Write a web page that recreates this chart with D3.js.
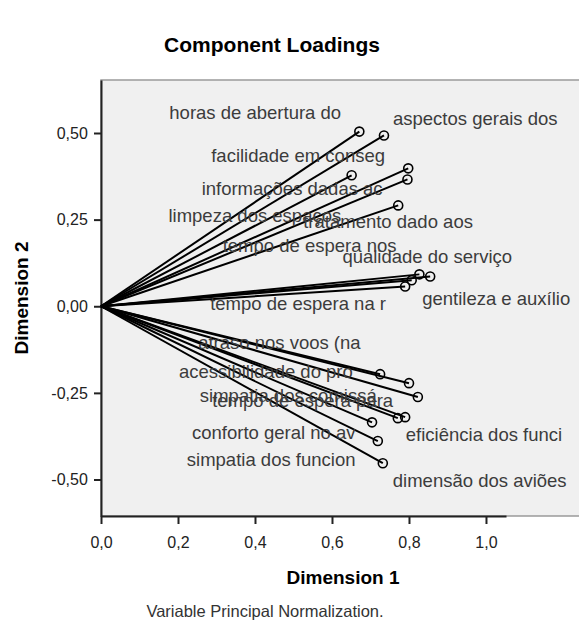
<!DOCTYPE html>
<html>
  <head>
    <meta charset="utf-8">
    <script src="https://cdn.jsdelivr.net/npm/d3@7"></script>
    <style type="text/css">

html, body {
  margin: 0;
  padding: 0;
  background: #fff;
}

svg {
  font-family: "Liberation Sans", Arial, sans-serif;
}

.axis path, .axis line {
  stroke: #222;
  stroke-width: 2px;
}

.axis text {
  font-size: 16px;
  fill: #222;
}

.vector {
  stroke: #000;
  stroke-width: 2px;
}

.tip {
  fill: none;
  stroke: #000;
  stroke-width: 1.6px;
}

.label {
  font-size: 18.5px;
  fill: #3c3c3c;
}

    </style>
  </head>
  <body>
    <svg id="chart" width="579" height="628"></svg>
    <script type="text/javascript">

// variable names (truncated to 20 chars like the output)
var variables = [
  "horas de abertura do", "aspectos gerais dos", "facilidade em conseg",
  "informações dadas ac", "limpeza dos espaços", "tratamento dado aos",
  "qualidade do serviço", "gentileza e auxílio", "tempo de espera nos",
  "tempo de espera na r", "atraso nos voos (na", "acessibilidade do pro",
  "simpatia dos comissá", "tempo de espera para", "eficiência dos funci",
  "conforto geral no av", "simpatia dos funcion", "dimensão dos aviões"
];

// loadings
var dim1 = [0.671, 0.735, 0.798, 0.651, 0.796, 0.772,
            0.827, 0.855, 0.807, 0.790,
            0.725, 0.800, 0.823, 0.790, 0.771, 0.704, 0.719, 0.732];
var dim2 = [0.504, 0.493, 0.398, 0.378, 0.366, 0.291,
            0.092, 0.086, 0.075, 0.057,
            -0.196, -0.222, -0.262, -0.320, -0.323, -0.335, -0.389, -0.453];

var xTicks = [0, 0.2, 0.4, 0.6, 0.8, 1.0];
var yTicks = [-0.5, -0.25, 0, 0.25, 0.5];

// label nudges in px, relative to the point (text start, baseline)
var labelNudge = [
  [-190, -13], [9, -10], [-197, -6], [-150, 20], [-239, 43], [-95, 23],
  [-77, -11], [-8, 29], [-189, -28], [-195, 24],
  [-182, -25], [-230, -5], [-218, 5], [-193, -10], [8, 23], [-180, 17], [-191, 25], [10, 24]
];

var svg = d3.select("#chart");

var pLeft = 101, pRight = 600, pTop = 80, pBottom = 516;

var x = d3.scaleLinear().domain([0, 1]).range([101, 486]);
var y = d3.scaleLinear().domain([-0.5, 0.5]).range([479.5, 133]);

var comma = d3.formatLocale({decimal: ",", thousands: ".", grouping: [3], currency: ["", ""], minus: "-"});

// plot background
svg.append("rect")
    .attr("x", pLeft)
    .attr("y", pTop)
    .attr("width", pRight - pLeft)
    .attr("height", pBottom - pTop)
    .attr("fill", "#f0f0f0")
    .attr("stroke", "#9a9a9a")
    .attr("stroke-width", 1.5);

// axes
var xAxis = svg.append("g")
    .attr("class", "axis")
    .attr("transform", "translate(0," + pBottom + ")")
    .call(d3.axisBottom(x.copy().domain([0, 1.052]).range([101, 506]))
      .tickValues(xTicks)
      .tickSize(8)
      .tickSizeOuter(0)
      .tickFormat(comma.format(".1f")));
xAxis.selectAll("text").attr("dy", "1.3em");

svg.append("g")
    .attr("class", "axis")
    .attr("transform", "translate(" + pLeft + ",0)")
    .call(d3.axisLeft(y.copy().domain([y.invert(pBottom), y.invert(pTop)]).range([pBottom, pTop]))
      .tickValues(yTicks)
      .tickSize(7)
      .tickSizeOuter(0)
      .tickFormat(comma.format(".2f")))
    .selectAll("text").attr("dx", "-0.2em");

// vectors
var idx = d3.range(variables.length);

svg.append("g").selectAll("line")
    .data(idx)
  .enter().append("line")
    .attr("class", "vector")
    .attr("x1", x(0))
    .attr("y1", y(0))
    .attr("x2", function(i) { return x(dim1[i]); })
    .attr("y2", function(i) { return y(dim2[i]); });

svg.append("g").selectAll("circle")
    .data(idx)
  .enter().append("circle")
    .attr("class", "tip")
    .attr("r", 4.5)
    .attr("cx", function(i) { return x(dim1[i]); })
    .attr("cy", function(i) { return y(dim2[i]); });

svg.append("g").selectAll("text")
    .data(idx)
  .enter().append("text")
    .attr("class", "label")
    .attr("x", function(i) { return x(dim1[i]) + labelNudge[i][0]; })
    .attr("y", function(i) { return y(dim2[i]) + labelNudge[i][1]; })
    .text(function(i) { return variables[i]; });

// titles
svg.append("text")
    .attr("x", 272)
    .attr("y", 52)
    .attr("text-anchor", "middle")
    .style("font-weight", "bold")
    .style("font-size", "21px")
    .text("Component Loadings");

svg.append("text")
    .attr("x", 343)
    .attr("y", 584)
    .attr("text-anchor", "middle")
    .style("font-weight", "bold")
    .style("font-size", "19px")
    .text("Dimension 1");

svg.append("text")
    .attr("transform", "translate(28,298) rotate(-90)")
    .attr("text-anchor", "middle")
    .style("font-weight", "bold")
    .style("font-size", "19px")
    .text("Dimension 2");

svg.append("text")
    .attr("x", 265)
    .attr("y", 617)
    .attr("text-anchor", "middle")
    .style("font-size", "16.5px")
    .style("fill", "#333")
    .text("Variable Principal Normalization.");

    </script>
  </body>
</html>
